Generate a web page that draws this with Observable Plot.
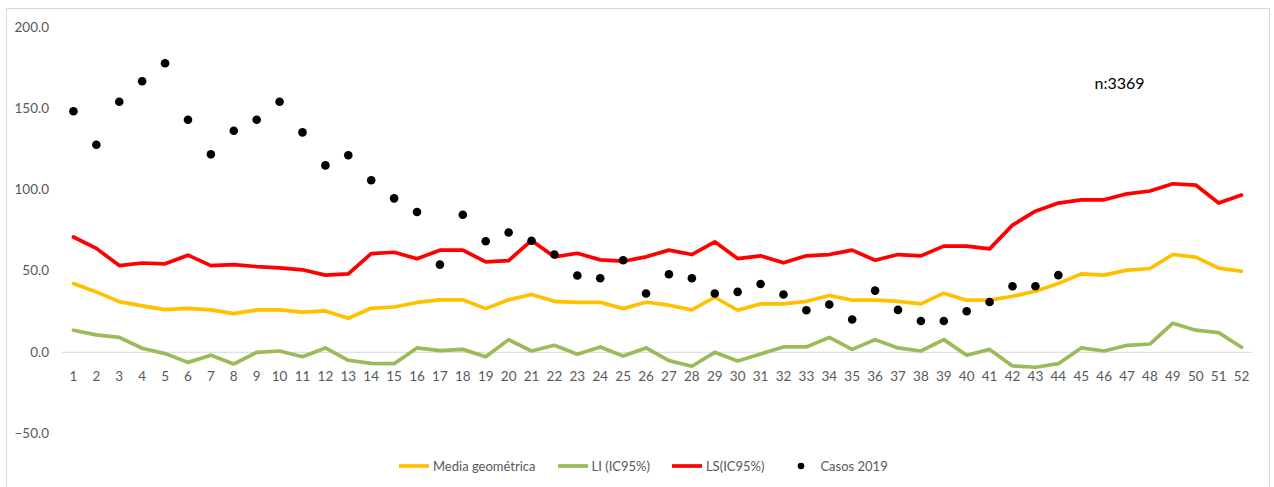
<!DOCTYPE html>
<html>
<head>
<meta charset="utf-8">
<script src="https://cdn.jsdelivr.net/npm/d3@7"></script>
<script src="https://cdn.jsdelivr.net/npm/@observablehq/plot@0.6"></script>
<style>
  html, body { margin: 0; padding: 0; background: #fff; width: 1274px; height: 487px; overflow: hidden; }
  #frame { position: absolute; left: 6px; top: 8px; width: 1264px; height: 490px; border: 1.5px solid #d9d9d9; box-sizing: border-box; }
  #chart { position: absolute; left: 0; top: 0; }
  #legend { position: absolute; left: 398px; top: 458px; display: flex; align-items: center; gap: 21px;
            font-family: Lato, "Liberation Sans", Arial, sans-serif; font-size: 13px; color: #595959; }
  .item { display: flex; align-items: center; gap: 3px; }
</style>
</head>
<body>
<div id="frame"></div>
<div id="chart"></div>
<div id="legend"></div>
<script>
const weeks = d3.range(1, 53);
const mediaGeometrica = [42.3,37.2,31.2,28.6,26.3,27.1,26.1,23.8,26.1,26.1,24.7,25.5,21.0,27.1,27.9,30.7,32.3,32.3,26.9,32.3,35.6,31.4,30.8,30.8,26.9,30.8,29.0,26.1,33.9,25.9,29.8,29.8,31.4,35.0,32.1,32.1,31.4,29.8,36.4,32.1,32.1,34.5,37.6,42.3,48.3,47.5,50.6,51.6,60.2,58.6,51.8,49.9];
const li = [13.6,10.7,9.2,2.5,-0.8,-6.2,-1.8,-7.2,0.0,0.8,-2.7,2.7,-4.9,-6.8,-7.0,2.7,1.0,1.8,-2.7,7.8,0.8,4.3,-1.2,3.3,-2.3,2.7,-5.1,-8.6,0.0,-5.3,-1.0,3.3,3.3,9.2,1.8,7.8,2.7,0.8,7.8,-1.8,1.8,-8.4,-9.2,-7.0,2.7,0.8,4.3,5.1,17.9,13.6,12.1,3.1];
const ls = [71.0,64.0,53.4,55.0,54.5,59.8,53.4,54.0,52.8,52.0,50.8,47.5,48.3,60.8,61.6,57.6,62.9,62.9,55.7,56.5,68.9,58.8,61.0,56.9,56.1,58.8,62.9,60.2,68.0,57.7,59.4,55.1,59.4,60.2,62.9,56.7,60.2,59.4,65.4,65.4,63.7,78.3,86.9,91.9,93.9,93.9,97.6,99.3,103.8,103.0,91.9,96.8];
const casos2019 = [148.4,127.8,154.3,166.9,178.0,143.2,121.9,136.4,143.2,154.3,135.4,115.1,121.3,105.9,94.8,86.4,54.0,84.7,68.4,73.8,68.7,60.2,47.3,45.6,56.7,36.2,48.1,45.6,36.2,37.2,42.1,35.6,25.9,29.4,20.2,38.0,26.1,19.3,19.3,25.3,31.0,40.7,40.7,47.5];
const yTicks = [-50, 0, 50, 100, 150, 200];
const seriesNames = ["Media geométrica", "LI (IC95%)", "LS(IC95%)", "Casos 2019"];
const seriesColors = ["#FFC000", "#9BBB59", "#FF0000", "#000000"];
const annotation = "n:3369";

const rows = (vals, name) => vals.map((v, i) => ({week: weeks[i], value: v, series: name}));
const lineData = [
  ...rows(mediaGeometrica, seriesNames[0]),
  ...rows(li, seriesNames[1]),
  ...rows(ls, seriesNames[2])
];
const dotData = rows(casos2019, seriesNames[3]);

const font = 'Lato, "Liberation Sans", Arial, sans-serif';
const chart = Plot.plot({
  width: 1274,
  height: 450,
  marginLeft: 61.5,
  marginRight: 21.5,
  marginTop: 27,
  marginBottom: 17,
  style: {fontFamily: font, fontSize: "13.5px", color: "#595959", background: "transparent"},
  x: {type: "point", domain: weeks, padding: 0.5, axis: null},
  y: {domain: [-50, 200], axis: null},
  color: {domain: seriesNames, range: seriesColors},
  marks: [
    Plot.ruleY([0], {stroke: "#d9d9d9", strokeWidth: 1}),
    Plot.axisY({ticks: yTicks, tickFormat: d3.format(".1f"), tickSize: 0, tickPadding: 13, label: null, fill: "#595959", fontSize: 13.5}),
    Plot.text(weeks, {x: d => d, y: () => 0, dy: 24, text: d => String(d), fill: "#595959", fontSize: 13.5}),
    Plot.line(lineData, {x: "week", y: "value", z: "series", stroke: "series", strokeWidth: 3.7, strokeLinejoin: "round", strokeLinecap: "round"}),
    Plot.dot(dotData, {x: "week", y: "value", r: 4.3, fill: "series", stroke: null}),
    Plot.text([annotation], {frameAnchor: "top-left", dx: 1032.5, dy: 50, text: d => d, textAnchor: "start", fontSize: 16, fill: "#000"})
  ]
});
document.getElementById("chart").appendChild(chart);

const legend = d3.select("#legend");
seriesNames.forEach((name, i) => {
  const item = legend.append("div").attr("class", "item");
  const svg = item.append("svg").attr("width", 32).attr("height", 12);
  if (i < 3) {
    svg.append("line").attr("x1", 1).attr("x2", 31).attr("y1", 6).attr("y2", 6)
      .attr("stroke", seriesColors[i]).attr("stroke-width", 3.7);
  } else {
    svg.append("circle").attr("cx", 16).attr("cy", 6).attr("r", 3.3).attr("fill", seriesColors[i]);
  }
  item.append("span").text(name);
});
</script>
</body>
</html>
